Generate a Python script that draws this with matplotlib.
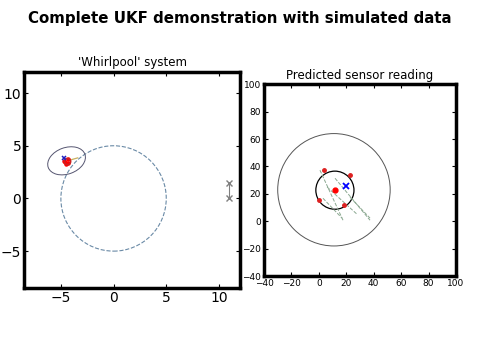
"""
Recreate the 'Complete UKF demonstration' figure: a whirlpool state plot
on the left and the predicted sensor reading on the right.
"""

import matplotlib

matplotlib.use("Agg")

import matplotlib.pyplot as plt
from matplotlib.patches import Circle, Ellipse

# ---------------------------------------------------------------------------
# Data
# ---------------------------------------------------------------------------

# Left panel: whirlpool orbit (circle) and filter state
ORBIT_CENTER = (0.0, 0.0)
ORBIT_RADIUS = 5.0
STATE_MEAN = (-4.46, 3.57)
STATE_ELL_W = 3.7
STATE_ELL_H = 2.5
STATE_ELL_ANGLE = 20.0
STATE_SIGMA_X = [-4.7, -4.3, -4.5, -4.35, -4.6]
STATE_SIGMA_Y = [3.55, 3.4, 3.3, 3.7, 3.45]
TRUE_STATE_X = [-4.75]
TRUE_STATE_Y = [3.85]
VELOCITY_X = [-4.1, -3.4]
VELOCITY_Y = [3.65, 3.85]
NOISE_BAR_X = [11.0, 11.0]
NOISE_BAR_Y = [0.0, 1.5]

# Right panel: predicted sensor reading
OUTER_CENTER = (11.0, 23.0)
OUTER_RADIUS = 41.0
INNER_CENTER = (11.7, 22.7)
INNER_RADIUS = 13.9
PRED_MEAN_X = [11.8]
PRED_MEAN_Y = [22.7]
MEAS_X = [19.8]
MEAS_Y = [26.0]
SIGMA_PT_X = [3.8, 22.7, 0.1, 18.3]
SIGMA_PT_Y = [37.7, 34.1, 15.2, 11.7]
TRAIL_X0 = [0.8, 11.8, 3.0, 22.7, 6.0]
TRAIL_Y0 = [37.3, 31.4, 16.8, 17.6, 25.0]
TRAIL_X1 = [17.6, 37.3, 16.9, 37.3, 28.0]
TRAIL_Y1 = [0.8, 0.8, 2.3, 2.3, 5.0]

LEFT_TICKS = [-5, 0, 5, 10]
RIGHT_TICKS = [-40, -20, 0, 20, 40, 60, 80, 100]


def style_axes(ax, labelsize):
    for spine in ax.spines.values():
        spine.set_linewidth(2.5)
    ax.tick_params(
        direction="in",
        top=True,
        right=True,
        length=3,
        width=0.8,
        labelsize=labelsize,
        pad=2,
    )


fig = plt.figure(figsize=(4.8, 3.6), dpi=100)
fig.suptitle(
    "Complete UKF demonstration with simulated data",
    fontsize=10.8,
    fontweight="bold",
    y=0.97,
)

# -- Left panel --
ax1 = fig.add_axes([0.05, 0.2, 0.45, 0.6])
ax1.add_patch(
    Circle(
        ORBIT_CENTER,
        ORBIT_RADIUS,
        fill=False,
        linestyle="--",
        color="#6a8aa6",
        linewidth=0.8,
    )
)
ax1.add_patch(
    Ellipse(
        STATE_MEAN,
        STATE_ELL_W,
        STATE_ELL_H,
        angle=STATE_ELL_ANGLE,
        fill=False,
        color="#555570",
        linewidth=0.7,
    )
)
ax1.plot(VELOCITY_X, VELOCITY_Y, color="#c8b060", linewidth=0.9)
ax1.plot(STATE_SIGMA_X, STATE_SIGMA_Y, "o", color="red", markersize=2.2)
ax1.plot(
    [STATE_MEAN[0]], [STATE_MEAN[1]], "o", color="#cc2020", markersize=4.5,
    markerfacecolor="none", markeredgewidth=1.2,
)
ax1.plot(TRUE_STATE_X, TRUE_STATE_Y, "x", color="#2020c0", markersize=3, mew=1.1)
ax1.plot(NOISE_BAR_X, NOISE_BAR_Y, "x-", color="gray", markersize=4, linewidth=0.8)
ax1.set_xlim(-8.5, 12)
ax1.set_ylim(-8.5, 12)
ax1.set_xticks(LEFT_TICKS)
ax1.set_yticks(LEFT_TICKS)
ax1.set_title("'Whirlpool' system", fontsize=8.5, pad=4)
style_axes(ax1, 10)

# -- Right panel --
ax2 = fig.add_axes([0.55, 0.233, 0.4, 0.533])
ax2.add_patch(
    Circle(OUTER_CENTER, OUTER_RADIUS, fill=False, color="#555555", linewidth=0.7)
)
ax2.add_patch(
    Circle(INNER_CENTER, INNER_RADIUS, fill=False, color="black", linewidth=0.9)
)
for x0, y0, x1, y1 in zip(TRAIL_X0, TRAIL_Y0, TRAIL_X1, TRAIL_Y1):
    ax2.plot([x0, x1], [y0, y1], "--", color="#8aa890", linewidth=0.7)
ax2.plot(SIGMA_PT_X, SIGMA_PT_Y, "o", color="#dd2020", markersize=2.5)
ax2.plot(PRED_MEAN_X, PRED_MEAN_Y, "o", color="red", markersize=3.5)
ax2.plot(MEAS_X, MEAS_Y, "x", color="blue", markersize=4.5, mew=1.3)
ax2.set_xlim(-40, 100)
ax2.set_ylim(-40, 100)
ax2.set_xticks(RIGHT_TICKS)
ax2.set_yticks(RIGHT_TICKS)
ax2.set_title("Predicted sensor reading", fontsize=8.5, pad=4)
style_axes(ax2, 6.5)

fig.savefig("out.png", dpi=100)
plt.close(fig)
